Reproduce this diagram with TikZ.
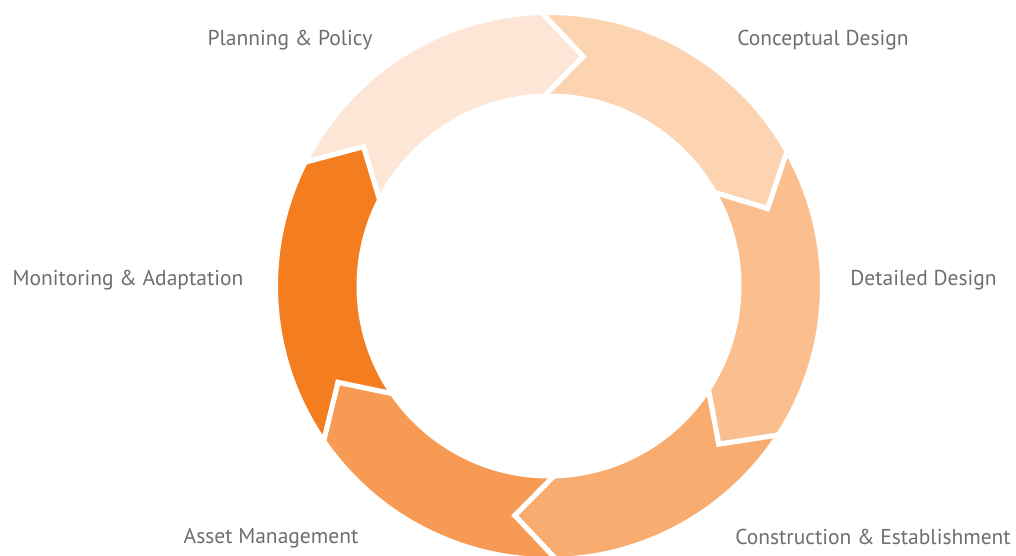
\documentclass[tikz,border=0pt]{standalone}
\usepackage{fontspec}
\setmainfont{PT Sans}
\usepackage{tikz}
\usetikzlibrary{positioning}

\definecolor{plan}{HTML}{FDE6D5}
\definecolor{concept}{HTML}{FDD4B1}
\definecolor{detail}{HTML}{FBBF8F}
\definecolor{build}{HTML}{F9AC70}
\definecolor{asset}{HTML}{F79B54}
\definecolor{monitor}{HTML}{F47D20}
\definecolor{labelgray}{HTML}{6D6E71}

\begin{document}
\begin{tikzpicture}[x=1pt,y=1pt,
	segment/.style={draw=white, line width=5pt, line join=miter},
	stage/.style={text=labelgray, font=\fontsize{21.5}{24}\selectfont, inner sep=0pt, anchor=base}]
	\useasboundingbox (0,0) rectangle (1016,-555);
	\begin{scope}[shift={(549,-286)}]
	\foreach \s/\e/\c in {153.1/91.5/plan, 91.5/29.5/concept, 29.5/-33/detail, -33/-88.5/build, -88.5/-145.5/asset, -145.5/-206.9/monitor}
		\path[segment, fill=\c] (\s:273.5pt) arc[start angle=\s, end angle=\e, radius=273.5pt]
			-- (\e-10:232pt) -- (\e:190pt) arc[start angle=\e, end angle=\s, radius=190pt]
			-- (\s-10:232pt) -- cycle;
	\end{scope}
	\path (290,-45) node (plan) [stage] {Planning \& Policy}
		  (823,-45) node (concept) [stage] {Conceptual Design}
		  (923.5,-285) node (detail) [stage] {Detailed Design}
		  (873,-544) node (build) [stage] {Construction \& Establishment}
		  (271,-543) node (asset) [stage] {Asset Management}
		  (128,-285) node (monitor) [stage] {Monitoring \& Adaptation};
\end{tikzpicture}
\end{document}
